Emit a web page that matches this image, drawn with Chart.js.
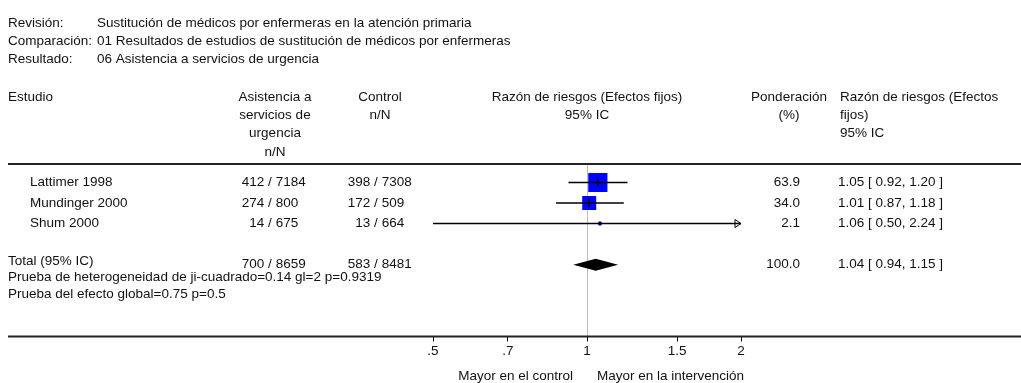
<!DOCTYPE html>
<html>
<head>
<meta charset="utf-8">
<script src="https://cdn.jsdelivr.net/npm/chart.js@4.4.1/dist/chart.umd.min.js"></script>
<style>
  html, body { margin: 0; padding: 0; background: #fff; }
  #wrap { width: 1021px; height: 383px; position: relative; }
</style>
</head>
<body>
<div id="wrap"><canvas id="forest"></canvas></div>
<script>
// Forest plot data
const titleLabels = ['Revisión:', 'Comparación:', 'Resultado:'];
const titleValues = [
  'Sustitución de médicos por enfermeras en la atención primaria',
  '01 Resultados de estudios de sustitución de médicos por enfermeras',
  '06 Asistencia a servicios de urgencia'
];

const studies = ['Lattimer 1998', 'Mundinger 2000', 'Shum 2000'];
const rows = [1, 2, 3];
const intervEvents = [412, 274, 14];
const intervTotals = [7184, 800, 675];
const controlEvents = [398, 172, 13];
const controlTotals = [7308, 509, 664];
const weights = [63.9, 34.0, 2.1];
const riskRatio = [1.05, 1.01, 1.06];
const ciLow = [0.92, 0.87, 0.50];
const ciHigh = [1.20, 1.18, 2.24];

const totalLabel = 'Total (95% IC)';
const totalRow = 5;
const totalInterv = [700, 8659];
const totalControl = [583, 8481];
const totalWeight = 100.0;
const totalRR = [1.04, 0.94, 1.15]; // estimate, low, high
const footNotes = [
  'Prueba de heterogeneidad de ji-cuadrado=0.14 gl=2 p=0.9319',
  'Prueba del efecto global=0.75 p=0.5'
];

const tickValues = [0.5, 0.7, 1, 1.5, 2];
const tickLabels = ['.5', '.7', '1', '1.5', '2'];
const favoursLeft = 'Mayor en el control';
const favoursRight = 'Mayor en la intervención';

const headStudy = ['Estudio'];
const headInterv = ['Asistencia a', 'servicios de', 'urgencia', 'n/N'];
const headControl = ['Control', 'n/N'];
const headPlot = ['Razón de riesgos (Efectos fijos)', '95% IC'];
const headWeight = ['Ponderación', '(%)'];
const headCI = ['Razón de riesgos (Efectos', 'fijos)', '95% IC'];

const FONT = '13.5px "Liberation Sans", Arial, sans-serif';
const TEXT = '#111';

function ciText(e, l, h) {
  return e.toFixed(2) + ' [ ' + l.toFixed(2) + ', ' + h.toFixed(2) + ' ]';
}

// draw "n / N" with the slash at a fixed x
function fracText(ctx, n, N, slashX, y) {
  const left = n + ' ';
  const w = ctx.measureText(left).width + ctx.measureText('/').width / 2;
  ctx.textAlign = 'left';
  ctx.fillText(left + '/ ' + N, slashX - w, y);
}

const squareSide = weights.map(w => 2.4 * Math.sqrt(w));

const forestDecor = {
  id: 'forestDecor',
  beforeDatasetsDraw(chart) {
    const ctx = chart.ctx, a = chart.chartArea, x = chart.scales.x;
    ctx.save();
    // line of no effect
    const x1 = Math.round(x.getPixelForValue(1)) + 0.5;
    ctx.strokeStyle = '#bcbcbc';
    ctx.lineWidth = 1;
    ctx.beginPath();
    ctx.moveTo(x1, a.top);
    ctx.lineTo(x1, a.bottom);
    ctx.stroke();
    // table rules
    ctx.strokeStyle = '#222';
    ctx.lineWidth = 2;
    ctx.beginPath();
    ctx.moveTo(8, a.top); ctx.lineTo(chart.width, a.top);
    ctx.moveTo(8, a.bottom); ctx.lineTo(chart.width, a.bottom);
    ctx.stroke();
    ctx.restore();
  },
  afterDatasetsDraw(chart) {
    const ctx = chart.ctx, a = chart.chartArea, x = chart.scales.x, y = chart.scales.y;
    ctx.save();
    // arrows for intervals beyond the axis
    ctx.strokeStyle = '#000';
    ctx.lineWidth = 1;
    rows.forEach((r, i) => {
      const py = y.getPixelForValue(r);
      if (ciHigh[i] > x.max) {
        ctx.beginPath();
        ctx.moveTo(a.right - 6, py - 4);
        ctx.lineTo(a.right, py);
        ctx.lineTo(a.right - 6, py + 4);
        ctx.closePath();
        ctx.stroke();
      }
      if (ciLow[i] < x.min) {
        ctx.beginPath();
        ctx.moveTo(a.left + 6, py - 4);
        ctx.lineTo(a.left, py);
        ctx.lineTo(a.left + 6, py + 4);
        ctx.closePath();
        ctx.stroke();
      }
    });
    // pooled diamond
    const ty = y.getPixelForValue(totalRow);
    ctx.fillStyle = '#000';
    ctx.beginPath();
    ctx.moveTo(x.getPixelForValue(totalRR[1]), ty);
    ctx.lineTo(x.getPixelForValue(totalRR[0]), ty - 6);
    ctx.lineTo(x.getPixelForValue(totalRR[2]), ty);
    ctx.lineTo(x.getPixelForValue(totalRR[0]), ty + 6);
    ctx.closePath();
    ctx.fill();
    ctx.restore();
  },
  afterDraw(chart) {
    const ctx = chart.ctx, x = chart.scales.x, y = chart.scales.y;
    const cx = x.getPixelForValue(1);
    ctx.save();
    ctx.font = FONT;
    ctx.fillStyle = TEXT;
    ctx.textBaseline = 'middle';

    // title block
    titleLabels.forEach((t, i) => {
      ctx.textAlign = 'left';
      ctx.fillText(t, 8, 23 + i * 18);
      ctx.fillText(titleValues[i], 97, 23 + i * 18);
    });

    // column headers
    const hy = 97, hs = 18.3;
    const put = (lines, px, align) => {
      ctx.textAlign = align;
      lines.forEach((t, i) => ctx.fillText(t, px, hy + i * hs));
    };
    put(headStudy, 8, 'left');
    put(headInterv, 275, 'center');
    put(headControl, 380, 'center');
    put(headPlot, cx, 'center');
    put(headWeight, 789, 'center');
    put(headCI, 840, 'left');

    // study rows
    rows.forEach((r, i) => {
      const py = y.getPixelForValue(r);
      ctx.textAlign = 'left';
      ctx.fillText(studies[i], 30, py);
      fracText(ctx, intervEvents[i], intervTotals[i], 270, py);
      fracText(ctx, controlEvents[i], controlTotals[i], 376, py);
      ctx.textAlign = 'right';
      ctx.fillText(weights[i].toFixed(1), 800, py);
      ctx.textAlign = 'left';
      ctx.fillText(ciText(riskRatio[i], ciLow[i], ciHigh[i]), 838, py);
    });

    // total row
    const ty = y.getPixelForValue(totalRow);
    ctx.textAlign = 'left';
    ctx.fillText(totalLabel, 8, ty - 3);
    fracText(ctx, totalInterv[0], totalInterv[1], 270, ty);
    fracText(ctx, totalControl[0], totalControl[1], 376, ty);
    ctx.textAlign = 'right';
    ctx.fillText(totalWeight.toFixed(1), 800, ty);
    ctx.textAlign = 'left';
    ctx.fillText(ciText(totalRR[0], totalRR[1], totalRR[2]), 838, ty);
    ctx.fillText(footNotes[0], 8, ty + 13);
    ctx.fillText(footNotes[1], 8, ty + 30);

    // favours labels
    ctx.textAlign = 'right';
    ctx.fillText(favoursLeft, cx - 14, 376);
    ctx.textAlign = 'left';
    ctx.fillText(favoursRight, cx + 10, 376);
    ctx.restore();
  }
};

const lineSets = rows.map((r, i) => ({
  type: 'line',
  data: [{x: ciLow[i], y: r}, {x: ciHigh[i], y: r}],
  borderColor: '#000',
  borderWidth: 1.4,
  pointRadius: 0,
  order: 2
}));

new Chart(document.getElementById('forest'), {
  type: 'scatter',
  data: {
    datasets: [
      {
        data: rows.map((r, i) => ({x: riskRatio[i], y: r})),
        pointStyle: 'rect',
        pointRadius: squareSide.map(s => s / Math.SQRT2),
        backgroundColor: '#0000ff',
        borderColor: '#0000ff',
        borderWidth: 0,
        order: 3
      },
      ...lineSets,
      {
        data: rows.map((r, i) => ({x: riskRatio[i], y: r})),
        pointStyle: 'line',
        rotation: 90,
        pointRadius: squareSide.map(s => Math.max(2, Math.min(4, s / 2))),
        borderColor: '#000',
        borderWidth: 1.4,
        order: 1
      }
    ]
  },
  options: {
    responsive: true,
    maintainAspectRatio: false,
    animation: false,
    events: [],
    layout: { padding: { left: 433, right: 280, top: 164, bottom: 20.5 } },
    plugins: { legend: { display: false }, tooltip: { enabled: false } },
    scales: {
      x: {
        type: 'logarithmic',
        min: 0.5,
        max: 2,
        afterBuildTicks: s => { s.ticks = tickValues.map(v => ({value: v})); },
        afterFit: s => { s.height = 26; },
        ticks: {
          autoSkip: false,
          maxRotation: 0,
          padding: 2,
          color: TEXT,
          font: { family: '"Liberation Sans", Arial, sans-serif', size: 13.5 },
          callback: v => tickLabels[tickValues.indexOf(v)]
        },
        grid: { drawOnChartArea: false, drawTicks: true, tickLength: 5, color: '#000' },
        border: { display: false }
      },
      y: {
        type: 'linear',
        min: 0.1,
        max: 8.5,
        reverse: true,
        display: false
      }
    }
  },
  plugins: [forestDecor]
});
</script>
</body>
</html>
